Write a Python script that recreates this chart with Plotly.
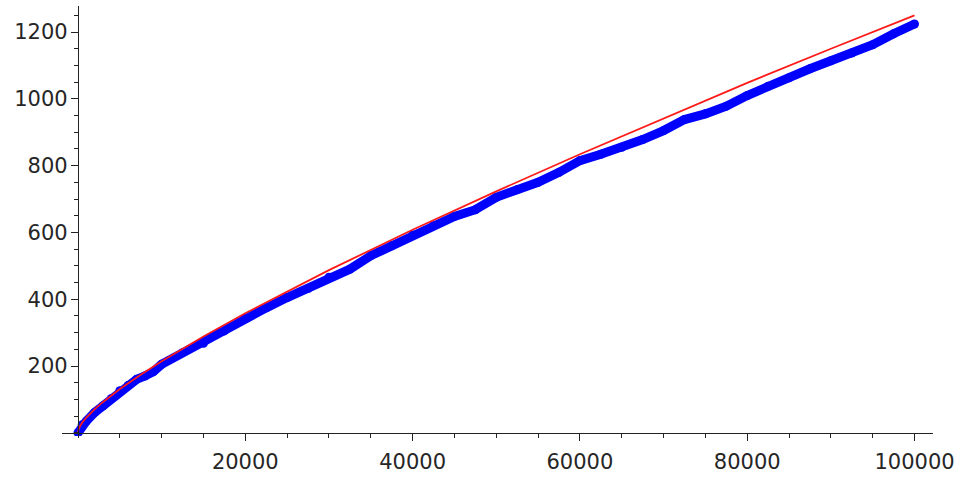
import plotly.graph_objects as go

blue_x = [0, 500, 1000, 2000, 3000, 4000, 5000, 6000, 7000, 8000, 9000, 10000,
          12500, 15000, 17500, 20000, 22500, 25000, 27500, 30000, 32500, 35000,
          37500, 40000, 42500, 45000, 47500, 50000, 52500, 55000, 57500, 60000,
          62500, 65000, 67500, 70000, 72500, 75000, 77500, 80000, 82500, 85000,
          87500, 90000, 92500, 95000, 97500, 100000]
blue_y = [0, 24, 35, 61, 81, 103, 126, 142, 160, 170, 183, 205,
          240, 268, 305, 342, 374, 405, 432, 466, 490, 530,
          560, 592, 620, 648, 668, 705, 728, 750, 780, 815,
          834, 855, 878, 905, 938, 955, 978, 1010, 1038, 1063,
          1090, 1114, 1137, 1162, 1195, 1224]

# Red series: smooth estimate curve
red_x = [2, 100, 500, 1000, 2000, 3000, 5000, 7500, 10000, 15000, 20000,
         30000, 40000, 50000, 60000, 70000, 80000, 90000, 100000]
red_y = [0, 13.5, 30.6, 45.8, 70.7, 92.4, 131, 174, 214, 288.6, 358,
         487, 608, 723, 834, 942, 1048, 1150, 1250]

x_tickvals = [20000, 40000, 60000, 80000, 100000]
x_ticktext = ["20000", "40000", "60000", "80000", "100000"]
y_tickvals = [200, 400, 600, 800, 1000, 1200]
y_ticktext = ["200", "400", "600", "800", "1000", "1200"]

xmin, xmax = -1913, 102210
ymin, ymax = -9.6, 1278

fig = go.Figure()
fig.add_trace(go.Scatter(
    x=blue_x, y=blue_y, mode="lines+markers",
    line=dict(color="#0000ff", width=9),
    marker=dict(color="#0000ff", size=9),
    showlegend=False, hoverinfo="skip"))
fig.add_trace(go.Scatter(
    x=red_x, y=red_y, mode="lines",
    line=dict(color="#ff1a1a", width=1.8),
    showlegend=False, hoverinfo="skip"))

axis_color = "#222222"
tick_font = dict(family="DejaVu Sans", size=21, color="#262626")

fig.update_layout(
    width=965, height=481,
    margin=dict(l=61.7, r=32.3, t=6, b=44.5),
    paper_bgcolor="white", plot_bgcolor="white",
    xaxis=dict(
        range=[xmin, xmax], domain=[0, 1],
        anchor="free", position=(0 - ymin) / (ymax - ymin),
        showgrid=False, zeroline=False,
        showline=True, linecolor=axis_color, linewidth=1.3,
        ticks="outside", ticklen=7, tickwidth=1.3, tickcolor=axis_color,
        tickvals=x_tickvals, ticktext=x_ticktext,
        tickfont=tick_font, ticklabelstandoff=3,
        minor=dict(ticks="outside", ticklen=4, tickwidth=1.1,
                   tickcolor=axis_color, tick0=0, dtick=5000, showgrid=False),
    ),
    yaxis=dict(
        range=[ymin, ymax], domain=[0, 1],
        anchor="free", position=(0 - xmin) / (xmax - xmin),
        showgrid=False, zeroline=False,
        showline=True, linecolor=axis_color, linewidth=1.3,
        ticks="outside", ticklen=7, tickwidth=1.3, tickcolor=axis_color,
        tickvals=y_tickvals, ticktext=y_ticktext,
        tickfont=tick_font, ticklabelstandoff=-1,
        minor=dict(ticks="outside", ticklen=4, tickwidth=1.1,
                   tickcolor=axis_color, tick0=0, dtick=50, showgrid=False),
    ),
)

fig.write_html("out.html", config={"displayModeBar": False},
               post_script="document.body.style.margin='0';")
